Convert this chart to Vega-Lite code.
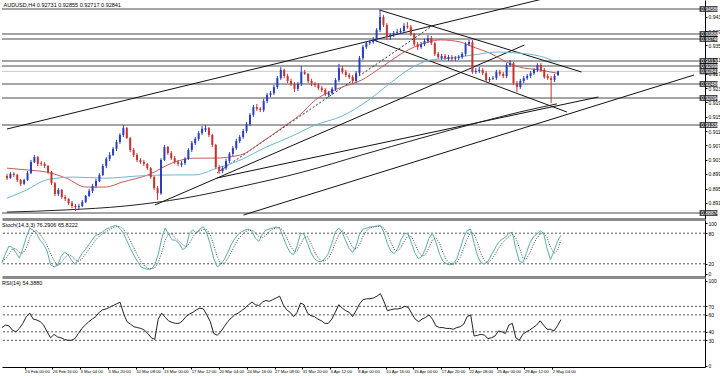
{
"$schema":"https://vega.github.io/schema/vega-lite/v6.json",
"padding":0,
"background":"white",
"spacing":1,
"config":{"view":{"stroke":null},"font":"Liberation Sans","axis":{"labelFont":"Liberation Sans","labelFontSize":5,"labelColor":"#000","domainColor":"#000","tickColor":"#000","tickSize":2,"labelPadding":1,"labelOverlap":false,"labelBound":false,"grid":false,"title":null},"title":{"font":"Liberation Sans","fontSize":5.5,"fontWeight":"normal","color":"#000","anchor":"start","offset":-8,"dx":2}},
"datasets":{
"bars":[
{"i":0,"o":0.8991,"h":0.8997,"l":0.898,"c":0.8985,"k":22,"d":25,"r":45},
{"i":2,"o":0.8985,"h":0.9002,"l":0.8983,"c":0.8997,"k":40,"d":30,"r":48},
{"i":4,"o":0.8997,"h":0.9002,"l":0.8988,"c":0.8994,"k":55,"d":39,"r":47},
{"i":6,"o":0.8994,"h":0.8997,"l":0.8974,"c":0.898,"k":52,"d":49,"r":42},
{"i":8,"o":0.898,"h":0.8983,"l":0.8963,"c":0.8969,"k":42,"d":50,"r":40},
{"i":10,"o":0.8969,"h":0.8983,"l":0.8966,"c":0.898,"k":31,"d":42,"r":44},
{"i":12,"o":0.898,"h":0.9005,"l":0.8977,"c":0.8999,"k":50,"d":41,"r":50},
{"i":14,"o":0.8999,"h":0.9036,"l":0.8997,"c":0.903,"k":72,"d":51,"r":58},
{"i":16,"o":0.903,"h":0.905,"l":0.9027,"c":0.9044,"k":90,"d":71,"r":62},
{"i":18,"o":0.9044,"h":0.9047,"l":0.9019,"c":0.9025,"k":86,"d":83,"r":55},
{"i":20,"o":0.9027,"h":0.9033,"l":0.9019,"c":0.9025,"k":79,"d":85,"r":54},
{"i":22,"o":0.9025,"h":0.903,"l":0.9013,"c":0.9019,"k":66,"d":77,"r":52},
{"i":24,"o":0.9019,"h":0.9022,"l":0.8997,"c":0.9002,"k":58,"d":68,"r":48},
{"i":26,"o":0.9002,"h":0.9005,"l":0.8966,"c":0.8971,"k":45,"d":56,"r":40},
{"i":28,"o":0.8971,"h":0.8974,"l":0.8935,"c":0.8941,"k":18,"d":40,"r":33},
{"i":30,"o":0.8941,"h":0.8957,"l":0.8935,"c":0.8952,"k":14,"d":26,"r":37},
{"i":32,"o":0.8952,"h":0.8955,"l":0.8927,"c":0.8932,"k":17,"d":16,"r":34},
{"i":34,"o":0.8932,"h":0.8938,"l":0.8921,"c":0.8927,"k":34,"d":22,"r":33},
{"i":36,"o":0.8927,"h":0.8929,"l":0.891,"c":0.8915,"k":43,"d":31,"r":31},
{"i":38,"o":0.8915,"h":0.8921,"l":0.8901,"c":0.8907,"k":38,"d":38,"r":30},
{"i":40,"o":0.8907,"h":0.8913,"l":0.8893,"c":0.8904,"k":27,"d":36,"r":30},
{"i":42,"o":0.8904,"h":0.8913,"l":0.8896,"c":0.8907,"k":19,"d":28,"r":32},
{"i":44,"o":0.8907,"h":0.8924,"l":0.8904,"c":0.8918,"k":28,"d":25,"r":38},
{"i":46,"o":0.8918,"h":0.8938,"l":0.8915,"c":0.8935,"k":40,"d":29,"r":44},
{"i":48,"o":0.8935,"h":0.8955,"l":0.8932,"c":0.8949,"k":48,"d":39,"r":48},
{"i":50,"o":0.8949,"h":0.8969,"l":0.8943,"c":0.8963,"k":57,"d":48,"r":52},
{"i":52,"o":0.8963,"h":0.8983,"l":0.8957,"c":0.8977,"k":67,"d":57,"r":55},
{"i":54,"o":0.8977,"h":0.8999,"l":0.8974,"c":0.8994,"k":76,"d":67,"r":58},
{"i":56,"o":0.8994,"h":0.9025,"l":0.8991,"c":0.9019,"k":78,"d":74,"r":63},
{"i":58,"o":0.9019,"h":0.9044,"l":0.9013,"c":0.9039,"k":83,"d":79,"r":66},
{"i":60,"o":0.9039,"h":0.9058,"l":0.9033,"c":0.905,"k":88,"d":83,"r":67},
{"i":62,"o":0.905,"h":0.9072,"l":0.9047,"c":0.9067,"k":91,"d":87,"r":69},
{"i":64,"o":0.9067,"h":0.9092,"l":0.9061,"c":0.9086,"k":94,"d":91,"r":71},
{"i":66,"o":0.9086,"h":0.9111,"l":0.9081,"c":0.9106,"k":95,"d":93,"r":73},
{"i":68,"o":0.9106,"h":0.9134,"l":0.91,"c":0.9125,"k":89,"d":93,"r":75},
{"i":70,"o":0.9125,"h":0.9128,"l":0.9095,"c":0.9097,"k":80,"d":88,"r":62},
{"i":72,"o":0.9097,"h":0.91,"l":0.9058,"c":0.9064,"k":65,"d":78,"r":52},
{"i":74,"o":0.9064,"h":0.9069,"l":0.9044,"c":0.905,"k":50,"d":65,"r":49},
{"i":76,"o":0.905,"h":0.9055,"l":0.903,"c":0.9036,"k":37,"d":51,"r":46},
{"i":78,"o":0.9036,"h":0.9041,"l":0.9025,"c":0.903,"k":25,"d":37,"r":45},
{"i":80,"o":0.903,"h":0.9036,"l":0.9019,"c":0.9025,"k":14,"d":25,"r":44},
{"i":82,"o":0.9025,"h":0.9027,"l":0.9008,"c":0.9013,"k":11,"d":17,"r":42},
{"i":84,"o":0.9013,"h":0.9016,"l":0.8983,"c":0.8988,"k":9,"d":11,"r":38},
{"i":86,"o":0.8988,"h":0.8991,"l":0.8952,"c":0.8957,"k":10,"d":10,"r":33},
{"i":88,"o":0.8957,"h":0.8963,"l":0.8924,"c":0.8943,"k":18,"d":12,"r":31},
{"i":90,"o":0.8943,"h":0.9041,"l":0.8938,"c":0.9036,"k":38,"d":22,"r":55},
{"i":92,"o":0.9036,"h":0.9078,"l":0.9033,"c":0.9072,"k":70,"d":42,"r":62},
{"i":94,"o":0.9072,"h":0.9075,"l":0.905,"c":0.9055,"k":90,"d":66,"r":57},
{"i":96,"o":0.9055,"h":0.9061,"l":0.9036,"c":0.9041,"k":78,"d":79,"r":53},
{"i":98,"o":0.9041,"h":0.9047,"l":0.9025,"c":0.903,"k":67,"d":78,"r":51},
{"i":100,"o":0.903,"h":0.9036,"l":0.9019,"c":0.9025,"k":66,"d":70,"r":50},
{"i":102,"o":0.9022,"h":0.9033,"l":0.9016,"c":0.9027,"k":60,"d":64,"r":50},
{"i":104,"o":0.9027,"h":0.9044,"l":0.9022,"c":0.9039,"k":48,"d":58,"r":53},
{"i":106,"o":0.9039,"h":0.9069,"l":0.9036,"c":0.9064,"k":52,"d":53,"r":58},
{"i":108,"o":0.9064,"h":0.9089,"l":0.9058,"c":0.9083,"k":80,"d":60,"r":61},
{"i":110,"o":0.9083,"h":0.91,"l":0.9078,"c":0.9095,"k":87,"d":73,"r":63},
{"i":112,"o":0.9095,"h":0.9117,"l":0.9089,"c":0.9111,"k":80,"d":82,"r":66},
{"i":114,"o":0.9111,"h":0.9131,"l":0.9106,"c":0.9123,"k":88,"d":85,"r":68},
{"i":116,"o":0.912,"h":0.9134,"l":0.9114,"c":0.9125,"k":93,"d":87,"r":67},
{"i":118,"o":0.9125,"h":0.9128,"l":0.91,"c":0.9106,"k":80,"d":87,"r":60},
{"i":120,"o":0.9106,"h":0.9109,"l":0.9072,"c":0.9078,"k":58,"d":77,"r":52},
{"i":122,"o":0.9078,"h":0.9081,"l":0.9011,"c":0.9016,"k":30,"d":56,"r":38},
{"i":124,"o":0.9016,"h":0.9022,"l":0.8997,"c":0.9005,"k":14,"d":34,"r":36},
{"i":126,"o":0.9005,"h":0.9019,"l":0.8999,"c":0.9013,"k":19,"d":21,"r":40},
{"i":128,"o":0.9013,"h":0.9039,"l":0.9008,"c":0.9033,"k":28,"d":20,"r":46},
{"i":130,"o":0.9033,"h":0.9058,"l":0.9027,"c":0.9053,"k":42,"d":30,"r":52},
{"i":132,"o":0.9053,"h":0.9075,"l":0.9047,"c":0.9069,"k":57,"d":42,"r":56},
{"i":134,"o":0.9069,"h":0.9095,"l":0.9064,"c":0.9089,"k":69,"d":56,"r":60},
{"i":136,"o":0.9089,"h":0.9106,"l":0.9083,"c":0.91,"k":77,"d":68,"r":62},
{"i":138,"o":0.91,"h":0.9123,"l":0.9095,"c":0.9117,"k":83,"d":76,"r":65},
{"i":140,"o":0.9117,"h":0.9142,"l":0.9111,"c":0.9136,"k":86,"d":82,"r":68},
{"i":142,"o":0.9136,"h":0.9167,"l":0.9131,"c":0.9162,"k":88,"d":86,"r":72},
{"i":144,"o":0.9162,"h":0.919,"l":0.9156,"c":0.9184,"k":84,"d":86,"r":75},
{"i":146,"o":0.9184,"h":0.9193,"l":0.9173,"c":0.9179,"k":70,"d":81,"r":72},
{"i":148,"o":0.9179,"h":0.9184,"l":0.917,"c":0.9176,"k":64,"d":73,"r":71},
{"i":150,"o":0.9176,"h":0.9207,"l":0.917,"c":0.9201,"k":78,"d":71,"r":75},
{"i":152,"o":0.9201,"h":0.9223,"l":0.9195,"c":0.9218,"k":86,"d":76,"r":77},
{"i":154,"o":0.9218,"h":0.9229,"l":0.9212,"c":0.9223,"k":88,"d":84,"r":76},
{"i":156,"o":0.9223,"h":0.9246,"l":0.9218,"c":0.924,"k":90,"d":88,"r":78},
{"i":158,"o":0.924,"h":0.9271,"l":0.9235,"c":0.9265,"k":92,"d":90,"r":80},
{"i":160,"o":0.9265,"h":0.9296,"l":0.926,"c":0.9288,"k":90,"d":91,"r":82},
{"i":162,"o":0.9288,"h":0.9291,"l":0.9265,"c":0.9271,"k":72,"d":85,"r":72},
{"i":164,"o":0.9271,"h":0.9277,"l":0.9251,"c":0.9257,"k":55,"d":72,"r":66},
{"i":166,"o":0.9257,"h":0.9263,"l":0.9243,"c":0.9249,"k":42,"d":56,"r":63},
{"i":168,"o":0.9249,"h":0.9254,"l":0.9226,"c":0.9235,"k":38,"d":45,"r":58},
{"i":170,"o":0.9235,"h":0.9254,"l":0.9229,"c":0.9249,"k":55,"d":45,"r":63},
{"i":172,"o":0.9249,"h":0.9299,"l":0.9243,"c":0.9282,"k":80,"d":58,"r":74},
{"i":174,"o":0.9282,"h":0.9288,"l":0.9274,"c":0.9277,"k":78,"d":71,"r":72},
{"i":176,"o":0.9277,"h":0.9279,"l":0.9251,"c":0.9257,"k":60,"d":73,"r":62},
{"i":178,"o":0.9257,"h":0.9263,"l":0.9243,"c":0.9249,"k":42,"d":60,"r":59},
{"i":180,"o":0.9249,"h":0.9254,"l":0.924,"c":0.9246,"k":30,"d":44,"r":58},
{"i":182,"o":0.9246,"h":0.9251,"l":0.9232,"c":0.9237,"k":25,"d":32,"r":55},
{"i":184,"o":0.9237,"h":0.9243,"l":0.9226,"c":0.9232,"k":24,"d":26,"r":53},
{"i":186,"o":0.9232,"h":0.9237,"l":0.9215,"c":0.9221,"k":30,"d":26,"r":50},
{"i":188,"o":0.9218,"h":0.9229,"l":0.9212,"c":0.9223,"k":40,"d":31,"r":50},
{"i":190,"o":0.9223,"h":0.924,"l":0.9218,"c":0.9235,"k":60,"d":43,"r":55},
{"i":192,"o":0.9235,"h":0.9265,"l":0.9229,"c":0.926,"k":82,"d":61,"r":63},
{"i":194,"o":0.926,"h":0.9305,"l":0.9254,"c":0.9293,"k":90,"d":77,"r":72},
{"i":196,"o":0.9293,"h":0.9299,"l":0.9277,"c":0.9282,"k":82,"d":85,"r":68},
{"i":198,"o":0.9282,"h":0.9288,"l":0.9268,"c":0.9274,"k":65,"d":79,"r":65},
{"i":200,"o":0.9274,"h":0.9279,"l":0.9263,"c":0.9268,"k":50,"d":66,"r":63},
{"i":202,"o":0.9268,"h":0.9274,"l":0.9249,"c":0.9257,"k":42,"d":52,"r":58},
{"i":204,"o":0.9257,"h":0.9285,"l":0.9251,"c":0.9279,"k":55,"d":49,"r":65},
{"i":206,"o":0.9279,"h":0.9327,"l":0.9274,"c":0.9321,"k":78,"d":58,"r":73},
{"i":208,"o":0.9321,"h":0.9358,"l":0.9316,"c":0.9352,"k":88,"d":74,"r":78},
{"i":210,"o":0.9352,"h":0.9369,"l":0.9347,"c":0.9363,"k":90,"d":85,"r":79},
{"i":212,"o":0.9363,"h":0.9372,"l":0.9358,"c":0.9366,"k":92,"d":90,"r":79},
{"i":214,"o":0.9366,"h":0.938,"l":0.9361,"c":0.9372,"k":93,"d":92,"r":80},
{"i":216,"o":0.9372,"h":0.9405,"l":0.9366,"c":0.94,"k":94,"d":93,"r":82},
{"i":218,"o":0.94,"h":0.9456,"l":0.9394,"c":0.9436,"k":95,"d":94,"r":85},
{"i":220,"o":0.9436,"h":0.9442,"l":0.9408,"c":0.9414,"k":82,"d":90,"r":76},
{"i":222,"o":0.9414,"h":0.9419,"l":0.9372,"c":0.938,"k":60,"d":79,"r":65},
{"i":224,"o":0.938,"h":0.9391,"l":0.9372,"c":0.9386,"k":45,"d":62,"r":66},
{"i":226,"o":0.9386,"h":0.9397,"l":0.938,"c":0.9391,"k":40,"d":48,"r":67},
{"i":228,"o":0.9391,"h":0.9403,"l":0.9386,"c":0.9394,"k":50,"d":45,"r":67},
{"i":230,"o":0.9394,"h":0.9405,"l":0.9388,"c":0.9397,"k":68,"d":53,"r":68},
{"i":232,"o":0.9397,"h":0.9419,"l":0.9391,"c":0.9411,"k":80,"d":66,"r":70},
{"i":234,"o":0.9411,"h":0.9422,"l":0.9403,"c":0.9408,"k":78,"d":75,"r":69},
{"i":236,"o":0.9408,"h":0.9414,"l":0.9383,"c":0.9388,"k":60,"d":73,"r":62},
{"i":238,"o":0.9388,"h":0.9391,"l":0.9355,"c":0.936,"k":40,"d":59,"r":55},
{"i":240,"o":0.936,"h":0.9366,"l":0.9344,"c":0.9352,"k":30,"d":43,"r":52},
{"i":242,"o":0.9352,"h":0.9366,"l":0.9347,"c":0.936,"k":35,"d":35,"r":55},
{"i":244,"o":0.936,"h":0.9375,"l":0.9355,"c":0.9369,"k":50,"d":38,"r":57},
{"i":246,"o":0.9369,"h":0.9386,"l":0.9363,"c":0.9377,"k":70,"d":52,"r":60},
{"i":248,"o":0.9377,"h":0.9383,"l":0.9358,"c":0.9363,"k":80,"d":67,"r":55},
{"i":250,"o":0.9363,"h":0.9366,"l":0.9327,"c":0.9333,"k":62,"d":71,"r":47},
{"i":252,"o":0.9333,"h":0.9338,"l":0.9319,"c":0.9324,"k":40,"d":61,"r":45},
{"i":254,"o":0.9321,"h":0.9333,"l":0.9316,"c":0.9327,"k":25,"d":42,"r":45},
{"i":256,"o":0.9327,"h":0.9333,"l":0.9316,"c":0.9321,"k":20,"d":28,"r":44},
{"i":258,"o":0.9319,"h":0.933,"l":0.9313,"c":0.9324,"k":18,"d":21,"r":44},
{"i":260,"o":0.9324,"h":0.933,"l":0.9313,"c":0.9319,"k":20,"d":19,"r":43},
{"i":262,"o":0.9319,"h":0.9327,"l":0.9313,"c":0.9321,"k":30,"d":23,"r":45},
{"i":264,"o":0.9321,"h":0.933,"l":0.9316,"c":0.9324,"k":50,"d":33,"r":46},
{"i":266,"o":0.9324,"h":0.9338,"l":0.9319,"c":0.9333,"k":72,"d":51,"r":49},
{"i":268,"o":0.9333,"h":0.9366,"l":0.9327,"c":0.936,"k":85,"d":69,"r":58},
{"i":270,"o":0.936,"h":0.9372,"l":0.9355,"c":0.9366,"k":88,"d":82,"r":60},
{"i":272,"o":0.9366,"h":0.9372,"l":0.9277,"c":0.9282,"k":60,"d":78,"r":35},
{"i":274,"o":0.9282,"h":0.9293,"l":0.9277,"c":0.9285,"k":35,"d":61,"r":36},
{"i":276,"o":0.9285,"h":0.9296,"l":0.9279,"c":0.9288,"k":22,"d":39,"r":37},
{"i":278,"o":0.9288,"h":0.9293,"l":0.9274,"c":0.9279,"k":20,"d":26,"r":36},
{"i":280,"o":0.9279,"h":0.9285,"l":0.9254,"c":0.926,"k":25,"d":22,"r":32},
{"i":282,"o":0.926,"h":0.9268,"l":0.9254,"c":0.9263,"k":38,"d":28,"r":33},
{"i":284,"o":0.9263,"h":0.9271,"l":0.926,"c":0.9265,"k":50,"d":38,"r":35},
{"i":286,"o":0.9265,"h":0.9288,"l":0.926,"c":0.9282,"k":62,"d":50,"r":41},
{"i":288,"o":0.9282,"h":0.9288,"l":0.9271,"c":0.9277,"k":68,"d":60,"r":40},
{"i":290,"o":0.9277,"h":0.9282,"l":0.9265,"c":0.9271,"k":72,"d":67,"r":38},
{"i":292,"o":0.9271,"h":0.9307,"l":0.9265,"c":0.9302,"k":80,"d":73,"r":48},
{"i":294,"o":0.9302,"h":0.9316,"l":0.9296,"c":0.9307,"k":82,"d":78,"r":50},
{"i":296,"o":0.9307,"h":0.931,"l":0.9246,"c":0.9251,"k":50,"d":71,"r":33},
{"i":298,"o":0.9251,"h":0.9257,"l":0.9226,"c":0.924,"k":25,"d":52,"r":30},
{"i":300,"o":0.924,"h":0.9263,"l":0.9235,"c":0.9257,"k":22,"d":32,"r":37},
{"i":302,"o":0.9257,"h":0.9271,"l":0.9251,"c":0.9265,"k":40,"d":29,"r":40},
{"i":304,"o":0.9265,"h":0.9277,"l":0.926,"c":0.9271,"k":60,"d":41,"r":42},
{"i":306,"o":0.9271,"h":0.9285,"l":0.9265,"c":0.9279,"k":72,"d":57,"r":45},
{"i":308,"o":0.9279,"h":0.9293,"l":0.9274,"c":0.9288,"k":78,"d":70,"r":48},
{"i":310,"o":0.9288,"h":0.9307,"l":0.9282,"c":0.9302,"k":85,"d":78,"r":53},
{"i":312,"o":0.9302,"h":0.9307,"l":0.9282,"c":0.9288,"k":80,"d":81,"r":48},
{"i":314,"o":0.9288,"h":0.9293,"l":0.9263,"c":0.9268,"k":50,"d":72,"r":43},
{"i":316,"o":0.9271,"h":0.9277,"l":0.926,"c":0.9265,"k":28,"d":53,"r":43},
{"i":318,"o":0.9265,"h":0.9271,"l":0.9195,"c":0.926,"k":45,"d":41,"r":41},
{"i":320,"o":0.926,"h":0.9277,"l":0.9254,"c":0.9271,"k":64,"d":46,"r":47},
{"i":322,"o":0.9273,"h":0.9286,"l":0.9272,"c":0.9284,"k":76,"d":66,"r":54.4}
],
"ma":[
{"s":"r","i":0,"p":0.9013},{"s":"r","i":11.5,"p":0.9008},{"s":"r","i":23,"p":0.9002},{"s":"r","i":34.6,"p":0.8985},{"s":"r","i":46.1,"p":0.896},{"s":"r","i":57.6,"p":0.896},{"s":"r","i":67.4,"p":0.8974},{"s":"r","i":82.4,"p":0.8994},{"s":"r","i":97.9,"p":0.903},{"s":"r","i":109.4,"p":0.9041},{"s":"r","i":121,"p":0.9041},{"s":"r","i":136.5,"p":0.905},{"s":"r","i":148,"p":0.9083},{"s":"r","i":161.3,"p":0.9128},{"s":"r","i":171.1,"p":0.9162},{"s":"r","i":180.3,"p":0.9204},{"s":"r","i":194.1,"p":0.9237},{"s":"r","i":207.4,"p":0.926},{"s":"r","i":218.9,"p":0.9296},{"s":"r","i":234.4,"p":0.9344},{"s":"r","i":246,"p":0.9366},{"s":"r","i":253.5,"p":0.9372},{"s":"r","i":265,"p":0.9366},{"s":"r","i":272.5,"p":0.9352},{"s":"r","i":282.3,"p":0.9335},{"s":"r","i":292,"p":0.931},{"s":"r","i":299.5,"p":0.9296},{"s":"r","i":311,"p":0.9288},{"s":"r","i":321.4,"p":0.9279},
{"s":"b","i":0,"p":0.8929},{"s":"b","i":11.5,"p":0.8952},{"s":"b","i":23,"p":0.898},{"s":"b","i":38.6,"p":0.8988},{"s":"b","i":57.6,"p":0.8985},{"s":"b","i":76.6,"p":0.8991},{"s":"b","i":97.9,"p":0.8994},{"s":"b","i":109.4,"p":0.8994},{"s":"b","i":122.7,"p":0.9013},{"s":"b","i":136.5,"p":0.9036},{"s":"b","i":151.5,"p":0.9072},{"s":"b","i":165.3,"p":0.91},{"s":"b","i":180.3,"p":0.9134},{"s":"b","i":195.9,"p":0.9159},{"s":"b","i":211.4,"p":0.9204},{"s":"b","i":224.7,"p":0.9254},{"s":"b","i":234.4,"p":0.9288},{"s":"b","i":247.7,"p":0.9316},{"s":"b","i":259.2,"p":0.9321},{"s":"b","i":272.5,"p":0.933},{"s":"b","i":286.3,"p":0.9338},{"s":"b","i":299.5,"p":0.9335},{"s":"b","i":311,"p":0.9327},{"s":"b","i":321.4,"p":0.931},
{"s":"k","i":0,"p":0.889},{"s":"k","i":34.6,"p":0.8896},{"s":"k","i":69.1,"p":0.8907},{"s":"k","i":103.7,"p":0.8929},{"s":"k","i":138.2,"p":0.8963},{"s":"k","i":172.8,"p":0.9002},{"s":"k","i":207.4,"p":0.905},{"s":"k","i":241.9,"p":0.9097},{"s":"k","i":276.5,"p":0.9142},{"s":"k","i":299.5,"p":0.917},{"s":"k","i":321.4,"p":0.9193}
],
"levels":[{"p":0.94586},{"p":0.93886},{"p":0.93746},{"p":0.9313},{"p":0.9299},{"p":0.92486},{"p":0.92094},{"p":0.91338},{"p":0.88874}],
"current":[{"p":0.92841}],
"tags":[{"p":0.94586},{"p":0.93886},{"p":0.93746},{"p":0.9313},{"p":0.9299},{"p":0.92841},{"p":0.92486},{"p":0.92094},{"p":0.91338},{"p":0.88874}],
"lines":[
{"x1":0,"y1":0.91226,"x2":322.6,"y2":0.94978},
{"x1":217.7,"y1":0.94558,"x2":335.8,"y2":0.92822},
{"x1":214.3,"y1":0.93718,"x2":327.2,"y2":0.91702},
{"x1":86.4,"y1":0.89098,"x2":302.4,"y2":0.93578},
{"x1":122.7,"y1":0.89854,"x2":345.6,"y2":0.92122},
{"x1":138.2,"y1":0.88818,"x2":401.5,"y2":0.92738}
],
"dotlines":[{"x1":122.7,"y1":0.89994,"x2":247.7,"y2":0.94082}],
"stlev":[{"v":80},{"v":20}],
"rsilev":[{"v":70},{"v":60},{"v":40},{"v":30}]
},
"vconcat":[
{
"width":703,"height":219,
"title":{"text":"AUDUSD,H4  0.92731 0.92855 0.92717 0.92841"},
"layer":[
{"data":{"name":"levels"},"mark":{"type":"rule","color":"#4a4a4a","strokeWidth":1},
 "encoding":{"y":{"field":"p","type":"quantitative","scale":{"domain":[0.88706,0.94838],"nice":false,"zero":false},
 "axis":{"orient":"right","labelOverlap":false,"values":[0.8916,0.8956,0.8997,0.9037,0.9077,0.9117,0.9157,0.9197,0.9237,0.9277,0.9317,0.9357,0.9397,0.9437],"format":".5f"}}}},
{"data":{"name":"current"},"mark":{"type":"rule","color":"#c8c8c8","strokeWidth":1},"encoding":{"y":{"field":"p","type":"quantitative","axis":{"orient":"right","labelOverlap":false,"values":[0.8916,0.8956,0.8997,0.9037,0.9077,0.9117,0.9157,0.9197,0.9237,0.9277,0.9317,0.9357,0.9397,0.9437],"format":".5f"}}}},
{"data":{"name":"lines"},"mark":{"type":"rule","color":"#111","strokeWidth":1,"clip":true},
 "encoding":{"x":{"field":"x1","type":"quantitative","scale":{"domain":[0,405],"nice":false,"zero":false},"axis":{"orient":"bottom","labels":false,"ticks":false,"domainColor":"#8a8a8a","domainWidth":3}},"x2":{"field":"x2"},"y":{"field":"y1","type":"quantitative","axis":{"orient":"right","labelOverlap":false,"values":[0.8916,0.8956,0.8997,0.9037,0.9077,0.9117,0.9157,0.9197,0.9237,0.9277,0.9317,0.9357,0.9397,0.9437],"format":".5f"}},"y2":{"field":"y2"}}},
{"data":{"name":"dotlines"},"mark":{"type":"rule","color":"#333","strokeWidth":1,"strokeDash":[2,2],"clip":true},
 "encoding":{"x":{"field":"x1","type":"quantitative"},"x2":{"field":"x2"},"y":{"field":"y1","type":"quantitative","axis":{"orient":"right","labelOverlap":false,"values":[0.8916,0.8956,0.8997,0.9037,0.9077,0.9117,0.9157,0.9197,0.9237,0.9277,0.9317,0.9357,0.9397,0.9437],"format":".5f"}},"y2":{"field":"y2"}}},
{"data":{"name":"ma"},"mark":{"type":"line","strokeWidth":1,"interpolate":"monotone"},
 "encoding":{"x":{"field":"i","type":"quantitative"},"y":{"field":"p","type":"quantitative","axis":{"orient":"right","labelOverlap":false,"values":[0.8916,0.8956,0.8997,0.9037,0.9077,0.9117,0.9157,0.9197,0.9237,0.9277,0.9317,0.9357,0.9397,0.9437],"format":".5f"}},"detail":{"field":"s"},
 "color":{"field":"s","type":"nominal","scale":{"domain":["r","b","k"],"range":["#c85a5a","#6ab8d6","#222222"]},"legend":null}}},
{"data":{"name":"bars"},"mark":{"type":"rule","strokeWidth":1},
 "encoding":{"x":{"field":"i","type":"quantitative"},"y":{"field":"l","type":"quantitative","axis":{"orient":"right","labelOverlap":false,"values":[0.8916,0.8956,0.8997,0.9037,0.9077,0.9117,0.9157,0.9197,0.9237,0.9277,0.9317,0.9357,0.9397,0.9437],"format":".5f"}},"y2":{"field":"h"},
 "color":{"condition":{"test":"datum.c >= datum.o","value":"#2a3fc0"},"value":"#c8322f"}}},
{"data":{"name":"bars"},"mark":{"type":"bar","size":2},
 "encoding":{"x":{"field":"i","type":"quantitative"},"y":{"field":"o","type":"quantitative","axis":{"orient":"right","labelOverlap":false,"values":[0.8916,0.8956,0.8997,0.9037,0.9077,0.9117,0.9157,0.9197,0.9237,0.9277,0.9317,0.9357,0.9397,0.9437],"format":".5f"}},"y2":{"field":"c"},
 "color":{"condition":{"test":"datum.c >= datum.o","value":"#2a3fc0"},"value":"#c8322f"}}},
{"data":{"name":"tags"},"mark":{"type":"tick","orient":"horizontal","size":18,"thickness":6,"color":"#000","clip":false},
 "encoding":{"x":{"datum":410,"type":"quantitative"},"y":{"field":"p","type":"quantitative","axis":{"orient":"right","labelOverlap":false,"values":[0.8916,0.8956,0.8997,0.9037,0.9077,0.9117,0.9157,0.9197,0.9237,0.9277,0.9317,0.9357,0.9397,0.9437],"format":".5f"}}}},
{"data":{"name":"tags"},"mark":{"type":"text","align":"left","baseline":"middle","dx":1,"fontSize":5,"color":"#fff","clip":false},
 "encoding":{"x":{"datum":405,"type":"quantitative"},"y":{"field":"p","type":"quantitative","axis":{"orient":"right","labelOverlap":false,"values":[0.8916,0.8956,0.8997,0.9037,0.9077,0.9117,0.9157,0.9197,0.9237,0.9277,0.9317,0.9357,0.9397,0.9437],"format":".5f"}},"text":{"field":"p","format":".5f"}}}
]
},
{
"width":703,"height":57,
"title":{"text":"Stoch(14,3,3) 76.2906 65.8222"},
"layer":[
{"data":{"name":"stlev"},"mark":{"type":"rule","color":"#555","strokeDash":[2,2],"strokeWidth":1},
 "encoding":{"y":{"field":"v","type":"quantitative","scale":{"domain":[-5.9,105.9],"nice":false,"zero":false},"axis":{"orient":"right","labelOverlap":false,"values":[0,20,80,100]}}}},
{"data":{"name":"bars"},"mark":{"type":"line","color":"#5aaeae","strokeWidth":1},
 "encoding":{"x":{"field":"i","type":"quantitative","scale":{"domain":[0,405],"nice":false,"zero":false},"axis":{"orient":"bottom","labels":false,"ticks":false,"domainColor":"#8a8a8a","domainWidth":3}},"y":{"field":"k","type":"quantitative","axis":{"orient":"right","labelOverlap":false,"values":[0,20,80,100]}}}},
{"data":{"name":"bars"},"mark":{"type":"line","color":"#444","strokeWidth":1,"strokeDash":[1,1.5]},
 "encoding":{"x":{"field":"i","type":"quantitative"},"y":{"field":"d","type":"quantitative","axis":{"orient":"right","labelOverlap":false,"values":[0,20,80,100]}}}}
]
},
{
"width":703,"height":89,
"title":{"text":"RSI(14) 54.3880"},
"layer":[
{"data":{"name":"rsilev"},"mark":{"type":"rule","color":"#555","strokeDash":[2,2],"strokeWidth":1},
 "encoding":{"y":{"field":"v","type":"quantitative","scale":{"domain":[-1.5,103.5],"nice":false,"zero":false},"axis":{"orient":"right","labelOverlap":false,"values":[0,30,40,60,70,100]}}}},
{"data":{"name":"bars"},"mark":{"type":"line","color":"#222","strokeWidth":1},
 "encoding":{"x":{"field":"i","type":"quantitative","scale":{"domain":[0,405],"nice":false,"zero":false},
 "axis":{"orient":"bottom","labelOverlap":false,"values":[13,29,45,61,77,93,109,125,141,157,173,189,205,221,237,253,269,285,301,317],"labelAlign":"left","labelFontSize":4.2,"labelPadding":0,"tickSize":2,"labelExpr":"['24 Feb 00:00','26 Feb 16:00','3 Mar 04:00','5 Mar 20:00','10 Mar 08:00','13 Mar 00:00','17 Mar 12:00','20 Mar 04:00','24 Mar 16:00','27 Mar 08:00','31 Mar 20:00','3 Apr 12:00','8 Apr 00:00','10 Apr 16:00','15 Apr 04:00','17 Apr 20:00','22 Apr 08:00','25 Apr 00:00','29 Apr 12:00','2 May 04:00'][(datum.value-13)/16]"}},
 "y":{"field":"r","type":"quantitative","axis":{"orient":"right","labelOverlap":false,"values":[0,30,40,60,70,100]}}}}
]
}
]
}
